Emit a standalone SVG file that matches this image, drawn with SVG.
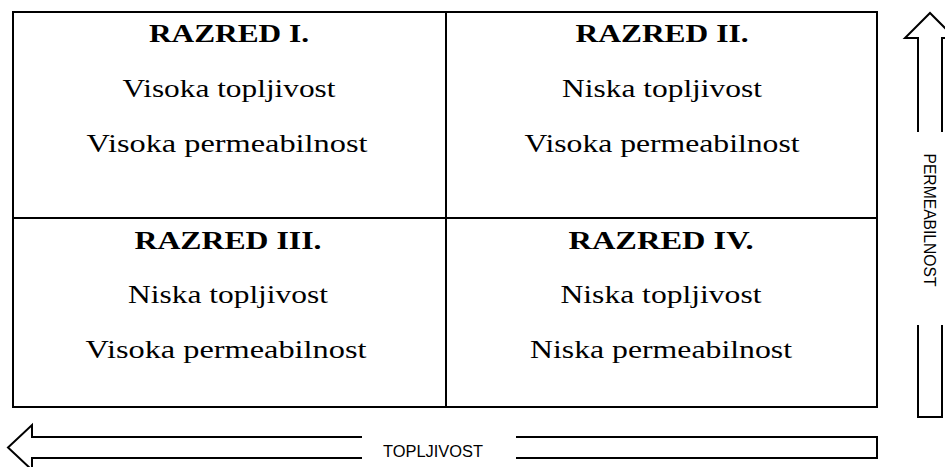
<svg xmlns="http://www.w3.org/2000/svg" width="945" height="467" viewBox="0 0 945 467">
<style>
.cell{fill:#fff;stroke:#000;stroke-width:2}
.h{font-family:"Liberation Serif","Times New Roman",serif;font-weight:bold;font-size:26px;text-anchor:middle;fill:#000}
.t{font-family:"Liberation Serif","Times New Roman",serif;font-size:26px;text-anchor:middle;fill:#000}
.ax{font-family:"Liberation Sans",Arial,sans-serif;font-size:16px;text-anchor:middle;fill:#000}
.arr{fill:none;stroke:#000;stroke-width:2;stroke-linejoin:miter}
</style>
<rect width="945" height="467" fill="#fff"/>
<g id="razred1">
<rect class="cell" x="13" y="12" width="433" height="206"/>
<text class="h" x="229" y="42" textLength="160" lengthAdjust="spacingAndGlyphs">RAZRED I.</text>
<text class="t" x="229" y="97" textLength="213" lengthAdjust="spacingAndGlyphs">Visoka topljivost</text>
<text class="t" x="227" y="152" textLength="281" lengthAdjust="spacingAndGlyphs">Visoka permeabilnost</text>
</g>
<g id="razred2">
<rect class="cell" x="446" y="12" width="431" height="206"/>
<text class="h" x="662" y="42" textLength="173" lengthAdjust="spacingAndGlyphs">RAZRED II.</text>
<text class="t" x="662" y="97" textLength="200" lengthAdjust="spacingAndGlyphs">Niska topljivost</text>
<text class="t" x="662" y="152" textLength="275" lengthAdjust="spacingAndGlyphs">Visoka permeabilnost</text>
</g>
<g id="razred3">
<rect class="cell" x="13" y="218" width="433" height="189"/>
<text class="h" x="228" y="249" textLength="187" lengthAdjust="spacingAndGlyphs">RAZRED III.</text>
<text class="t" x="228" y="303" textLength="200" lengthAdjust="spacingAndGlyphs">Niska topljivost</text>
<text class="t" x="226" y="358" textLength="281" lengthAdjust="spacingAndGlyphs">Visoka permeabilnost</text>
</g>
<g id="razred4">
<rect class="cell" x="446" y="218" width="431" height="189"/>
<text class="h" x="661" y="249" textLength="185" lengthAdjust="spacingAndGlyphs">RAZRED IV.</text>
<text class="t" x="661" y="303" textLength="201" lengthAdjust="spacingAndGlyphs">Niska topljivost</text>
<text class="t" x="661" y="358" textLength="262" lengthAdjust="spacingAndGlyphs">Niska permeabilnost</text>
</g>
<g id="axes">
<g id="axis-permeabilnost">
<polyline class="arr" points="918,132 918,38 905,38 930,13 955,38 942,38 942,132"/>
<polyline class="arr" points="918,325 918,417 942,417 942,325"/>
<text class="ax" transform="translate(923.5,220) rotate(90)" textLength="133" lengthAdjust="spacingAndGlyphs">PERMEABILNOST</text>
</g>
<g id="axis-topljivost">
<polyline class="arr" points="362,437 32,437 32,425 8,447.5 32,470 32,458 362,458"/>
<polyline class="arr" points="516,437 877,437 877,458 516,458"/>
<text class="ax" x="433" y="457" font-size="17" textLength="100" lengthAdjust="spacingAndGlyphs">TOPLJIVOST</text>
</g>
</g>
</svg>
